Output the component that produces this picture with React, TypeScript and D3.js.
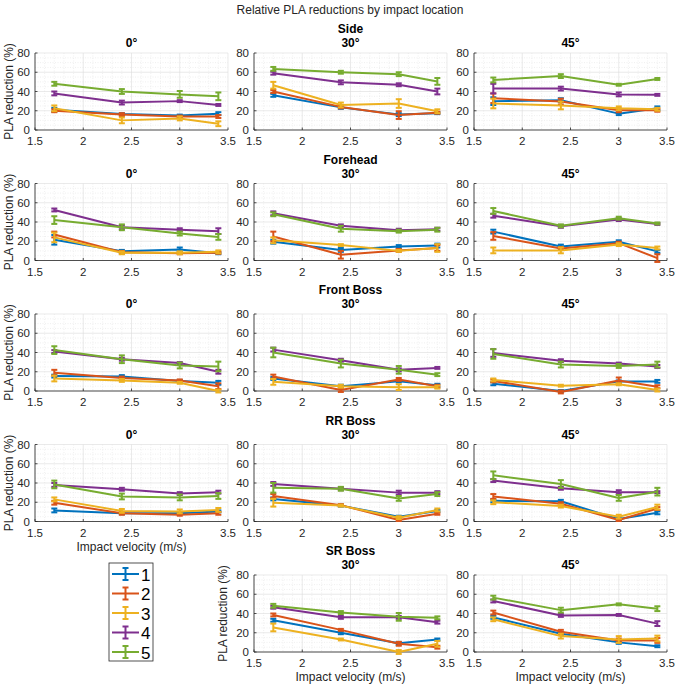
import React from 'react';
import * as d3 from 'd3';

const velocities = [1.7, 2.4, 3.0, 3.4];
const seriesNames = ['1', '2', '3', '4', '5'];
const seriesColors = ['#0072BD', '#D95319', '#EDB120', '#7E2F8E', '#77AC30'];
const locations = ['Side', 'Forehead', 'Front Boss', 'RR Boss', 'SR Boss'];
const angles = ['0°', '30°', '45°'];
const xTicks = [1.5, 2, 2.5, 3, 3.5];
const yTicks = [0, 20, 40, 60, 80];

// rows = series 1..5, columns = velocities
const side0 = [[21, 16.5, 15, 17], [20, 16, 14, 14], [22.5, 10, 12, 6.5], [38, 28.5, 30, 26], [48, 40, 37, 35]];
const side0Err = [[2, 1, 1, 1.5], [1.5, 1.5, 1, 1.5], [3, 3, 2, 2.5], [2, 2, 1, 1], [2, 2.5, 3.5, 4]];
const side30 = [[36, 23.5, 16, 17.5], [40, 24, 15.5, 18], [46.5, 26, 27.5, 19.5], [59, 49.5, 47, 40], [63.5, 60, 58, 50.5]];
const side30Err = [[1.5, 1.5, 1.5, 1], [1.5, 1.5, 4, 1], [3.5, 2.5, 4.5, 2], [1.5, 2, 1.5, 3], [2, 1.5, 2, 3.5]];
const side45 = [[30, 31, 17, 22.5], [33, 29.5, 20.5, 20.5], [27.5, 25.5, 22.5, 21.5], [43, 43, 37, 36.5], [52, 56, 47, 53]];
const side45Err = [[4, 2, 1.5, 2], [5, 3, 2, 1.5], [5, 4, 2, 1.5], [5, 2, 2, 1], [2.5, 2, 1, 1]];

const forehead0 = [[21.5, 9.5, 11.5, 7.5], [27, 8.5, 7.5, 8], [24, 8, 8, 9], [52.5, 34.5, 32, 30.5], [42, 34.5, 28, 24.5]];
const forehead0Err = [[5, 1.5, 2, 1], [3, 1.5, 1, 1], [5, 1.5, 1.5, 1.5], [1.5, 2, 1.5, 3], [4, 3, 2, 3]];
const forehead30 = [[19.5, 11, 14.5, 15.5], [25, 6, 10.5, 13], [21, 16, 10, 13], [49, 36, 31.5, 32.5], [48, 33, 30.5, 32]];
const forehead30Err = [[2, 2, 1.5, 2], [5, 4, 1.5, 3], [3, 1, 1, 4], [2, 1.5, 1.5, 1.5], [2, 3, 1.5, 2]];
const forehead45 = [[30, 14.5, 19.5, 9.5], [25.5, 12.5, 18, 2.5], [10.5, 10.5, 16.5, 13], [46.5, 35.5, 42.5, 38], [51.5, 36, 44, 38.5]];
const forehead45Err = [[2, 2, 1.5, 1.5], [4, 1.5, 1.5, 4], [3, 3, 1.5, 1.5], [2, 1.5, 1.5, 1], [3, 1.5, 1.5, 1]];

const front0 = [[15.5, 15, 10.5, 8.5], [19, 13.5, 11, 5], [13, 11, 8.5, 0], [41, 33, 29, 20], [42.5, 33, 26.5, 25.5]];
const front0Err = [[1.5, 1.5, 1, 2], [3, 1.5, 1, 3], [3, 1.5, 1, 1.5], [1.5, 1.5, 1, 2], [4, 4, 3, 5]];
const front30 = [[13, 5, 10, 6], [15, 1, 12, 5], [9.5, 5, 4, 4], [43, 32, 22, 24], [40, 28.5, 22, 17]];
const front30Err = [[1.5, 1.5, 1, 1.5], [2, 2, 1.5, 1.5], [3, 1.5, 3, 1.5], [2, 1.5, 1.5, 1], [5, 4, 4, 1.5]];
const front45 = [[7.5, 0, 10, 10], [10.5, -1, 11, 4.5], [11.5, 5.5, 7, 1], [39.5, 31.5, 28.5, 25.5], [38.5, 27.5, 26, 27.5]];
const front45Err = [[1.5, 1, 1, 1.5], [1.5, 1.5, 3, 1.5], [1.5, 1, 1, 1.5], [4, 1.5, 1, 1.5], [5, 3, 2, 3]];

const rr0 = [[11.5, 8.5, 8.5, 10.5], [19.5, 8.5, 7, 8.5], [23, 11, 10.5, 12], [38, 33.5, 29, 30.5], [38.5, 26, 25, 26.5]];
const rr0Err = [[2, 1, 1, 1], [2, 1.5, 1, 1.5], [2, 2, 2, 2], [2, 1.5, 1.5, 1.5], [4, 3, 3, 3]];
const rr30 = [[23.5, 16.5, 5, 11], [26.5, 17, 1.5, 8], [19.5, 16.5, 4, 12], [39, 34, 30, 30], [35, 34, 24, 28.5]];
const rr30Err = [[1.5, 1, 1, 1], [2, 1, 1, 1], [4, 1, 1.5, 1.5], [2, 1.5, 2, 1.5], [5, 2, 2.5, 2]];
const rr45 = [[21.5, 21, 2.5, 9], [26, 18.5, 1.5, 13.5], [20, 16, 5, 15], [42.5, 34.5, 30.5, 30.5], [48, 39, 24.5, 31]];
const rr45Err = [[1.5, 1.5, 1, 1.5], [2.5, 1.5, 1, 1.5], [2, 1.5, 2, 2.5], [1.5, 1.5, 2, 1], [4, 4, 3, 4]];

const sr30 = [[33, 20, 9, 13], [38.5, 23, 8.5, 5], [25.5, 13, 0, 8.5], [46.5, 36, 36, 31], [48, 41, 36.5, 35.5]];
const sr30Err = [[1.5, 1.5, 1.5, 1], [1.5, 1, 2, 1.5], [4, 1, 2, 3], [1.5, 1.5, 1.5, 1.5], [2, 1.5, 4, 1.5]];
const sr45 = [[36, 19, 10, 6], [41, 21, 12, 12], [34, 16.5, 13, 14], [53, 38, 38.5, 29.5], [56.5, 43.5, 49.5, 45]];
const sr45Err = [[1.5, 1.5, 1.5, 1], [2, 2, 2, 2.5], [2, 2.5, 3.5, 3], [1.5, 1.5, 1, 2.5], [2, 2.5, 1, 2.5]];

const panels = [
  { row: 0, col: 0, values: side0, errs: side0Err },
  { row: 0, col: 1, values: side30, errs: side30Err },
  { row: 0, col: 2, values: side45, errs: side45Err },
  { row: 1, col: 0, values: forehead0, errs: forehead0Err },
  { row: 1, col: 1, values: forehead30, errs: forehead30Err },
  { row: 1, col: 2, values: forehead45, errs: forehead45Err },
  { row: 2, col: 0, values: front0, errs: front0Err },
  { row: 2, col: 1, values: front30, errs: front30Err },
  { row: 2, col: 2, values: front45, errs: front45Err },
  { row: 3, col: 0, values: rr0, errs: rr0Err },
  { row: 3, col: 1, values: rr30, errs: rr30Err },
  { row: 3, col: 2, values: rr45, errs: rr45Err },
  { row: 4, col: 1, values: sr30, errs: sr30Err },
  { row: 4, col: 2, values: sr45, errs: sr45Err },
];

const W = 676, H = 687;
const colLeft = [35, 254, 474];
const rowTop = [53, 183.5, 314, 444.5, 575];
const pw = 193, ph = 77;
const FONT = '"Liberation Sans", Arial, Helvetica, sans-serif';
const TXT = '#262626';

const Panel = ({ p }) => {
  const x0 = colLeft[p.col], y0 = rowTop[p.row];
  const x = d3.scaleLinear().domain([1.5, 3.5]).range([x0, x0 + pw]);
  const y = d3.scaleLinear().domain([0, 80]).range([y0 + ph, y0]);
  const line = d3.line().x((d, i) => x(velocities[i])).y(d => y(d));
  const minorX = d3.range(1.5, 3.5001, 0.1).filter(v => Math.abs(v * 2 - Math.round(v * 2)) > 0.01);
  const minorY = d3.range(0, 80.001, 5).filter(v => v % 20 !== 0);
  // y label on first column, or on the first drawn panel of the last row
  const showYLabel = p.col === 0 || (p.row === 4 && p.col === 1);
  const showXLabel = (p.row === 3 && p.col === 0) || p.row === 4;
  const cx = x0 + pw / 2;
  const yLabelX = p.col === 0 ? x0 - 22 : x0 - 27;

  return (
    <g>
      {p.col === 1 && (
        <text x={cx} y={y0 - 20} textAnchor="middle" fontWeight="bold" fontSize={12} fill="#000">{locations[p.row]}</text>
      )}
      <text x={cx} y={y0 - 6} textAnchor="middle" fontWeight="bold" fontSize={12} fill="#000">{angles[p.col]}</text>

      {minorX.map((v, i) => (
        <line key={'mx' + i} x1={x(v)} x2={x(v)} y1={y0} y2={y0 + ph} stroke="#e6e6e6" strokeWidth={0.6} strokeDasharray="1,1.5" />
      ))}
      {minorY.map((v, i) => (
        <line key={'my' + i} x1={x0} x2={x0 + pw} y1={y(v)} y2={y(v)} stroke="#e6e6e6" strokeWidth={0.6} strokeDasharray="1,1.5" />
      ))}
      {xTicks.map(v => (
        <line key={'gx' + v} x1={x(v)} x2={x(v)} y1={y0} y2={y0 + ph} stroke="#dcdcdc" strokeWidth={0.6} />
      ))}
      {yTicks.map(v => (
        <line key={'gy' + v} x1={x0} x2={x0 + pw} y1={y(v)} y2={y(v)} stroke="#dcdcdc" strokeWidth={0.6} />
      ))}

      <line x1={x0} x2={x0} y1={y0} y2={y0 + ph} stroke={TXT} strokeWidth={0.8} />
      <line x1={x0} x2={x0 + pw} y1={y0 + ph} y2={y0 + ph} stroke={TXT} strokeWidth={0.8} />
      {yTicks.map(v => (
        <g key={'ty' + v}>
          <line x1={x0} x2={x0 + 2.5} y1={y(v)} y2={y(v)} stroke={TXT} strokeWidth={0.8} />
          <text x={x0 - 5} y={y(v) + 4} textAnchor="end" fontSize={11.5} fill={TXT}>{v}</text>
        </g>
      ))}
      {xTicks.map(v => (
        <g key={'tx' + v}>
          <line x1={x(v)} x2={x(v)} y1={y0 + ph} y2={y0 + ph - 2.5} stroke={TXT} strokeWidth={0.8} />
          <text x={x(v)} y={y0 + ph + 15} textAnchor="middle" fontSize={11.5} fill={TXT}>{v}</text>
        </g>
      ))}

      {showYLabel && (
        <text transform={`translate(${yLabelX},${y0 + ph / 2}) rotate(-90)`} textAnchor="middle" fontSize={12} fill={TXT}>PLA reduction (%)</text>
      )}
      {showXLabel && (
        <text x={cx} y={y0 + ph + 29} textAnchor="middle" fontSize={12} fill={TXT}>Impact velocity (m/s)</text>
      )}

      {p.values.map((s, si) => (
        <g key={'s' + si} stroke={seriesColors[si]} strokeWidth={2} fill="none">
          <path d={line(s)} strokeLinejoin="round" />
          {s.map((v, i) => {
            const e = p.errs[si][i];
            const px = x(velocities[i]);
            return (
              <g key={i}>
                <line x1={px} x2={px} y1={y(v - e)} y2={y(v + e)} />
                <line x1={px - 3} x2={px + 3} y1={y(v - e)} y2={y(v - e)} />
                <line x1={px - 3} x2={px + 3} y1={y(v + e)} y2={y(v + e)} />
              </g>
            );
          })}
        </g>
      ))}
    </g>
  );
};

const Legend = () => {
  const lx = 109, ly = 563, lw = 44, lh = 98;
  const ey = d3.scaleLinear().domain([0, seriesNames.length - 1]).range([ly + 11, ly + 89]);
  return (
    <g>
      <rect x={lx} y={ly} width={lw} height={lh} fill="#fff" stroke={TXT} strokeWidth={0.8} />
      {seriesNames.map((n, i) => (
        <g key={n}>
          <g stroke={seriesColors[i]} strokeWidth={2}>
            <line x1={lx + 3} x2={lx + 30} y1={ey(i)} y2={ey(i)} />
            <line x1={lx + 16.5} x2={lx + 16.5} y1={ey(i) - 6} y2={ey(i) + 6} />
            <line x1={lx + 13.5} x2={lx + 19.5} y1={ey(i) - 6} y2={ey(i) - 6} />
            <line x1={lx + 13.5} x2={lx + 19.5} y1={ey(i) + 6} y2={ey(i) + 6} />
          </g>
          <text x={lx + 32} y={ey(i) + 6.5} fontSize={17} fill="#000">{n}</text>
        </g>
      ))}
    </g>
  );
};

export default function App() {
  return (
    <svg width={W} height={H} style={{ position: 'absolute', left: 0, top: 0, background: '#fff' }} fontFamily={FONT}>
      <rect width={W} height={H} fill="#fff" />
      <text x={350} y={14} textAnchor="middle" fontSize={12} fill={TXT}>Relative PLA reductions by impact location</text>
      {panels.map((p, i) => <Panel key={i} p={p} />)}
      <Legend />
    </svg>
  );
}
